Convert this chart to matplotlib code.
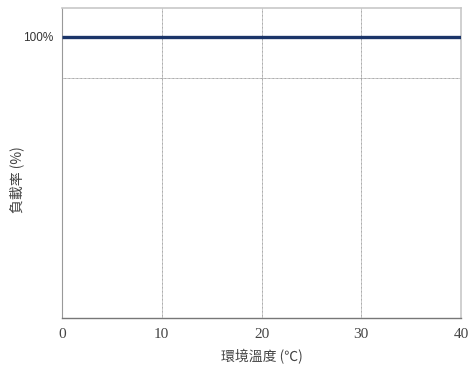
import matplotlib.pyplot as plt

# data
temps = [0, 40]
load = [100, 100]
x_ticks = [0, 10, 20, 30, 40]
y_ticks = [85.4, 100]
y_tick_labels = ['', '100%']

fig = plt.figure(figsize=(4.72, 3.70), dpi=100)
ax = fig.add_axes([62 / 472, 52 / 370, 399 / 472, 310 / 370])

ax.plot(temps, load, color='#1b3569', linewidth=2.4, solid_capstyle='butt', zorder=3)

ax.set_xlim(0, 40)
ax.set_ylim(0, 110.3)
ax.set_xticks(x_ticks)
ax.set_xticklabels([str(t) for t in x_ticks], family='Liberation Serif', fontsize=11, color='#444444')
ax.set_yticks(y_ticks)
ax.set_yticklabels(y_tick_labels, family='Liberation Sans', fontsize=8.5, color='#333333')
ax.tick_params(length=0, pad=7)
ax.tick_params(axis='y', pad=6)

ax.grid(True, color='#8a8a8a', linestyle=(0, (1, 0.6)), linewidth=0.6)
for side in ['top', 'right']:
    ax.spines[side].set_color('#c8c8c8')
    ax.spines[side].set_linewidth(1.2)
ax.spines['left'].set_color('#999999')
ax.spines['bottom'].set_color('#777777')
ax.spines['bottom'].set_linewidth(1.0)

ax.set_xlabel('環境溫度 (℃)', family=['Noto Sans CJK TC', 'DejaVu Sans'], fontsize=10,
              color='#444444', labelpad=6)
fig.text(17 / 472, 1 - 180 / 370, '負載率 (%)', family=['Noto Sans CJK TC', 'DejaVu Sans'],
         fontsize=10, color='#444444', rotation=90, ha='center', va='center')

fig.savefig('out.png', dpi=100)
